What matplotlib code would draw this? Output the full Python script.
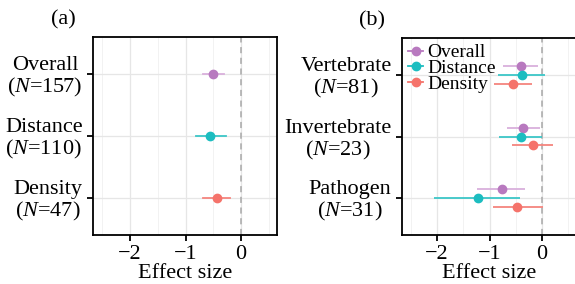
import matplotlib
matplotlib.use("Agg")
import matplotlib.pyplot as plt
import numpy as np

plt.rcParams['font.family'] = ['Liberation Serif', 'DejaVu Serif']
plt.rcParams['mathtext.fontset'] = 'custom'
plt.rcParams['mathtext.rm'] = 'Liberation Serif'
plt.rcParams['mathtext.it'] = 'Liberation Serif:italic'

# panel (a)
a_labels = ["Overall\n($N$=157)", "Distance\n($N$=110)", "Density\n($N$=47)"]
a_est = [-0.50, -0.55, -0.44]
a_lo = [-0.69, -0.82, -0.69]
a_hi = [-0.31, -0.27, -0.20]

# panel (b)
b_labels = ["Vertebrate\n($N$=81)", "Invertebrate\n($N$=23)", "Pathogen\n($N$=31)"]
series = ["Overall", "Distance", "Density"]
b_est = {"Overall": [-0.40, -0.36, -0.77],
         "Distance": [-0.38, -0.40, -1.22],
         "Density": [-0.55, -0.18, -0.47]}
b_lo = {"Overall": [-0.74, -0.67, -1.23],
        "Distance": [-0.83, -0.81, -2.05],
        "Density": [-0.91, -0.57, -0.94]}
b_hi = {"Overall": [-0.07, -0.03, -0.32],
        "Distance": [0.06, 0.0, -0.41],
        "Density": [-0.19, 0.22, 0.02]}

colors = {"Overall": "#B879BF", "Distance": "#1CBDC0", "Density": "#F5736B"}
line_colors = {"Overall": "#D9B0DC", "Distance": "#3CC6C8", "Density": "#F5857E"}

fig = plt.figure(figsize=(5.75, 2.84), dpi=100)
ax1 = fig.add_axes([93/575, 49/284, 184/575, 198/284])
ax2 = fig.add_axes([402/575, 49/284, 174/575, 197/284])


def style(ax, labels):
    ax.set_xlim(-2.67, 0.65)
    ax.set_ylim(0.4, 3.6)
    ax.set_xticks([-2, -1, 0])
    ax.set_xticklabels(["\u22122", "\u22121", "0"])
    ax.set_xticks([-2.5, -1.5, -0.5, 0.5], minor=True)
    ax.set_yticks([3, 2, 1])
    ax.set_yticklabels(labels, linespacing=1.05, multialignment='center')
    ax.grid(True, which='major', color='#e6e6e6', lw=0.9, zorder=0)
    ax.grid(True, axis='x', which='minor', color='#f0f0f0', lw=0.6, zorder=0)
    ax.tick_params(axis='both', which='major', labelsize=16, length=4.5, width=1.3, colors='black')
    ax.tick_params(axis='x', which='major', pad=2.5)
    ax.tick_params(axis='x', which='minor', length=0)
    ax.tick_params(axis='y', pad=3)
    for s in ax.spines.values():
        s.set_linewidth(1.3)
    ax.axvline(0, color='#a8a8a8', ls=(0, (4, 3)), lw=1.1, zorder=1)
    ax.set_xlabel("Effect size", fontsize=16, labelpad=0)
    ax.set_axisbelow(True)


style(ax1, a_labels)
ypos = np.array([3, 2, 1])
for i, s in enumerate(series):
    ax1.plot([a_lo[i], a_hi[i]], [ypos[i], ypos[i]], color=line_colors[s], lw=1.3, zorder=2)
    ax1.plot(a_est[i], ypos[i], 'o', color=colors[s], ms=6, zorder=3)
ax1.text(-0.095, 1.04, "(a)", transform=ax1.transAxes, fontsize=16, ha='right', va='bottom')

style(ax2, b_labels)
offsets = {"Overall": 0.14, "Distance": 0.0, "Density": -0.14}
for s in series:
    y = ypos + offsets[s]
    ax2.hlines(y, b_lo[s], b_hi[s], color=line_colors[s], lw=1.3, zorder=2)
    ax2.plot(b_est[s], y, 'o', color=colors[s], ms=6, zorder=3, ls='none')
    # legend handle
    ax2.plot([], [], marker='o', color=colors[s], ms=6, lw=1.3, label=s)
ax2.legend(loc='upper left', frameon=False, fontsize=14, handlelength=0.8, handletextpad=0.2,
           labelspacing=-0.1, borderaxespad=0.1, borderpad=0.2)
ax2.text(-0.095, 1.04, "(b)", transform=ax2.transAxes, fontsize=16, ha='right', va='bottom')

fig.savefig("out.png", dpi=100)
